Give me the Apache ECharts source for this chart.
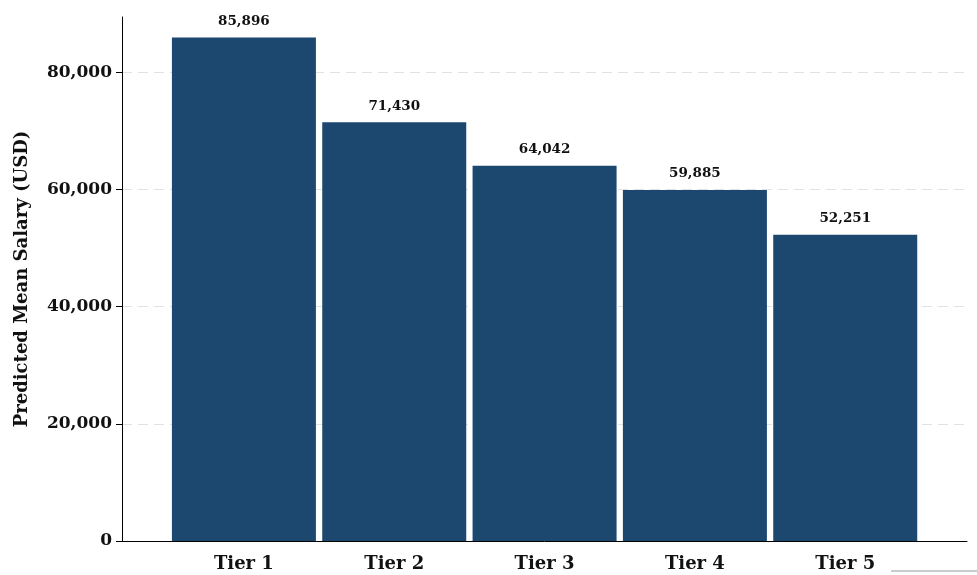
<!DOCTYPE html>
<html>
<head>
<meta charset="utf-8">
<style>
html,body{margin:0;padding:0;background:#fff;}
#chart{width:977px;height:575px;}
</style>
<script src="https://cdn.jsdelivr.net/npm/echarts@6/dist/echarts.min.js"></script>
</head>
<body>
<div id="chart"></div>
<script>
var categories = ['Tier 1', 'Tier 2', 'Tier 3', 'Tier 4', 'Tier 5'];
var positions = [1, 2, 3, 4, 5];
var salaries = [85896, 71430, 64042, 59885, 52251];
var yTicks = [0, 20000, 40000, 60000, 80000];

var FONT = '"DejaVu Serif", serif';
function fmt(v) { return Math.round(v).toLocaleString('en-US'); }

var chart = echarts.init(document.getElementById('chart'), null, {renderer: 'canvas'});
chart.setOption({
  animation: false,
  backgroundColor: '#ffffff',
  grid: {left: 122, right: 10, top: 17, bottom: 34, containLabel: false, outerBoundsMode: 'none'},
  xAxis: {
    type: 'value',
    min: 0.189,
    max: 5.81,
    axisLine: {show: true, lineStyle: {color: '#000', width: 1}},
    axisTick: {show: false},
    splitLine: {show: false},
    axisLabel: {
      customValues: positions,
      formatter: function (v) { return categories[Math.round(v) - 1] || ''; },
      fontFamily: FONT, fontWeight: 'bold', fontSize: 18, color: '#111',
      margin: 14
    }
  },
  yAxis: {
    type: 'value',
    min: 0,
    max: 89400,
    name: 'Predicted Mean Salary (USD)',
    nameLocation: 'middle',
    nameGap: 91,
    nameRotate: 90,
    nameTextStyle: {fontFamily: FONT, fontWeight: 'bold', fontSize: 18, color: '#111'},
    axisLine: {show: true, lineStyle: {color: '#000', width: 1}},
    axisTick: {show: true, length: 6, lineStyle: {color: '#000'}, customValues: yTicks},
    splitLine: {show: true, lineStyle: {color: '#e2e2e2', type: [10, 6], width: 1}},
    axisLabel: {
      customValues: yTicks,
      formatter: function (v) { return fmt(v); },
      fontFamily: FONT, fontWeight: 'bold', fontSize: 17, color: '#111',
      margin: 10
    }
  },
  series: [{
    type: 'bar',
    barWidth: 144,
    data: positions.map(function (p, i) { return [p, salaries[i]]; }),
    itemStyle: {color: '#1c476f'},
    label: {
      show: true,
      position: 'top',
      distance: 9,
      formatter: function (p) { return fmt(p.value[1]); },
      fontFamily: FONT, fontWeight: 'bold', fontSize: 13.5, color: '#111'
    }
  }],
  graphic: [{
    type: 'line',
    shape: {x1: 891, y1: 571, x2: 977, y2: 571},
    style: {stroke: '#999', lineWidth: 1}
  }]
});
</script>
</body>
</html>
